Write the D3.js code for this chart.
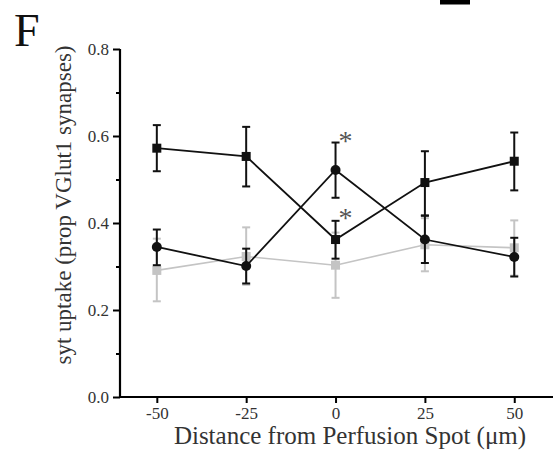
<!DOCTYPE html>
<html>
<head>
<meta charset="utf-8">
<script src="https://cdn.jsdelivr.net/npm/d3@7"></script>
<style>
  html, body { margin: 0; padding: 0; background: #fff; }
  svg { display: block; }
  text { font-family: "Liberation Serif", "DejaVu Serif", serif; }
</style>
</head>
<body>
<svg id="chart" width="555" height="454"></svg>
<script>
// ---- data ----
const distances = [-50, -25, 0, 25, 50];
const xTicks = [-50, -25, 0, 25, 50];
const yTicks = [0.0, 0.2, 0.4, 0.6, 0.8];
const yMinorTicks = [0.1, 0.3, 0.5, 0.7];

const squareMean = [0.572, 0.553, 0.362, 0.493, 0.542];
const squareUpper = [0.625, 0.621, 0.405, 0.565, 0.608];
const squareLower = [0.519, 0.484, 0.318, 0.417, 0.475];

const circleMean = [0.345, 0.301, 0.522, 0.362, 0.322];
const circleUpper = [0.385, 0.341, 0.585, 0.417, 0.366];
const circleLower = [0.303, 0.261, 0.458, 0.308, 0.277];

const grayMean = [0.291, 0.323, 0.303, 0.350, 0.343];
const grayUpper = [0.364, 0.390, 0.378, 0.411, 0.406];
const grayLower = [0.220, 0.258, 0.228, 0.289, 0.279];

const starDistances = [0, 0];
const starValues = [0.603, 0.425];

const yLabel = "syt uptake (prop VGlut1 synapses)";
const xLabel = "Distance from Perfusion Spot (\u03bcm)";
const panelLabel = "F";

// ---- chart ----
const FONT = '"Liberation Serif", "DejaVu Serif", serif';
const svg = d3.select("#chart");
const x = d3.scaleLinear().domain([-60.3, 60]).range([120, 550]);
const y = d3.scaleLinear().domain([0, 0.8]).range([397, 49]);

// black bar at top (part of neighbouring panel)
svg.append("rect").attr("x", 440).attr("y", 0).attr("width", 30).attr("height", 4.5).attr("fill", "#000");

// panel label
svg.append("text").attr("x", 14).attr("y", 46).attr("font-size", 46).attr("fill", "#111").text(panelLabel);

// y axis
const yAxis = d3.axisLeft(y).tickValues(yTicks).tickSize(7).tickPadding(4).tickFormat(d3.format(".1f"));
const gy = svg.append("g").attr("transform", "translate(120,0)").call(yAxis);
gy.select(".domain").attr("stroke-width", 2.2).attr("d", `M0,${y(0)}V${y(0.8)}`);
gy.selectAll(".tick line").attr("stroke-width", 2);
gy.selectAll(".tick text").attr("fill", "#333").style("font-family", FONT).style("font-size", "17px");
const gyMinor = svg.append("g").attr("transform", "translate(120,0)")
  .call(d3.axisLeft(y).tickValues(yMinorTicks).tickSize(4).tickFormat(""));
gyMinor.select(".domain").remove();
gyMinor.selectAll(".tick line").attr("stroke-width", 2);

// x axis
const xAxis = d3.axisBottom(x).tickValues(xTicks).tickSize(6).tickPadding(4).tickFormat(d => String(d));
const gx = svg.append("g").attr("transform", `translate(0,${y(0)})`).call(xAxis);
gx.select(".domain").attr("stroke-width", 2.2).attr("d", `M119,0H553`);
gx.selectAll(".tick line").attr("stroke-width", 2);
gx.selectAll(".tick text").attr("fill", "#333").style("font-family", FONT).style("font-size", "17px");

// axis titles
svg.append("text").attr("transform", `translate(71,205) rotate(-90)`)
  .attr("text-anchor", "middle").attr("font-size", 23).attr("fill", "#333").text(yLabel);
svg.append("text").attr("x", 350).attr("y", 444).attr("text-anchor", "middle")
  .attr("font-size", 25).attr("fill", "#333").text(xLabel);

// series drawing
function drawSeries(mean, upper, lower, color, shape, lineW) {
  const g = svg.append("g");
  const pts = distances.map((d, i) => ({ d, m: mean[i], u: upper[i], l: lower[i] }));
  g.append("path").datum(pts)
    .attr("d", d3.line().x(p => x(p.d)).y(p => y(p.m)))
    .attr("fill", "none").attr("stroke", color).attr("stroke-width", lineW);
  const cap = 4;
  const eb = g.selectAll(".eb").data(pts).enter().append("g");
  eb.append("line").attr("x1", p => x(p.d)).attr("x2", p => x(p.d))
    .attr("y1", p => y(p.u)).attr("y2", p => y(p.l)).attr("stroke", color).attr("stroke-width", 2);
  eb.append("line").attr("x1", p => x(p.d) - cap).attr("x2", p => x(p.d) + cap)
    .attr("y1", p => y(p.u)).attr("y2", p => y(p.u)).attr("stroke", color).attr("stroke-width", 2);
  eb.append("line").attr("x1", p => x(p.d) - cap).attr("x2", p => x(p.d) + cap)
    .attr("y1", p => y(p.l)).attr("y2", p => y(p.l)).attr("stroke", color).attr("stroke-width", 2);
  if (shape === "square") {
    g.selectAll(".mk").data(pts).enter().append("rect")
      .attr("x", p => x(p.d) - 4.5).attr("y", p => y(p.m) - 4.5)
      .attr("width", 9).attr("height", 9).attr("fill", color);
  } else {
    g.selectAll(".mk").data(pts).enter().append("circle")
      .attr("cx", p => x(p.d)).attr("cy", p => y(p.m)).attr("r", 5).attr("fill", color);
  }
}

drawSeries(grayMean, grayUpper, grayLower, "#c4c4c4", "square", 1.6);
drawSeries(squareMean, squareUpper, squareLower, "#111", "square", 1.8);
drawSeries(circleMean, circleUpper, circleLower, "#111", "circle", 1.8);

// significance stars
svg.selectAll(".star").data(starDistances.map((d, i) => ({ d, v: starValues[i] })))
  .enter().append("text")
  .attr("x", p => x(p.d) + 10).attr("y", p => y(p.v) + 15)
  .attr("text-anchor", "middle").attr("font-size", 28).attr("fill", "#555").text("*");
</script>
</body>
</html>
